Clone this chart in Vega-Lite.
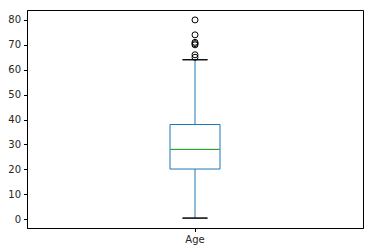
{
  "$schema": "https://vega.github.io/schema/vega-lite/v6.json",
  "autosize": "none",
  "width": 336,
  "height": 218,
  "padding": {"left": 27, "top": 10, "right": 9, "bottom": 24},
  "background": "white",
  "config": {
    "view": {"stroke": "black", "strokeWidth": 1},
    "axis": {"labelFont": "DejaVu Sans", "labelFontSize": 10, "labelColor": "#262626", "domainColor": "black", "tickColor": "black", "tickSize": 3.5, "grid": false, "labelOverlap": false}
  },
  "datasets": {
    "stats": [{"label": "Age", "min": 0.42, "q1": 20.125, "median": 28, "q3": 38, "max": 64}],
    "outliers": [
      {"label": "Age", "value": 65}, {"label": "Age", "value": 66}, {"label": "Age", "value": 70},
      {"label": "Age", "value": 70.5}, {"label": "Age", "value": 71}, {"label": "Age", "value": 74},
      {"label": "Age", "value": 80}
    ]
  },
  "encoding": {
    "x": {"field": "label", "type": "nominal", "scale": {"domain": ["Age"], "paddingOuter": 0, "paddingInner": 0}, "axis": {"title": null, "labelAngle": 0, "labelPadding": 3}}
  },
  "layer": [
    {
      "data": {"name": "stats"},
      "mark": {"type": "rule", "color": "#1f77b4", "strokeWidth": 1},
      "encoding": {
        "y": {"field": "min", "type": "quantitative", "scale": {"domain": [-3.56, 83.98], "nice": false, "zero": false}, "axis": {"values": [0,10,20,30,40,50,60,70,80], "title": null, "labelPadding": 3, "labelOverlap": false}},
        "y2": {"field": "max"}
      }
    },
    {
      "data": {"name": "stats"},
      "mark": {"type": "bar", "fill": "white", "stroke": "#1f77b4", "strokeWidth": 1, "size": 50},
      "encoding": {
        "y": {"field": "q1", "type": "quantitative", "axis": {"values": [0,10,20,30,40,50,60,70,80], "title": null, "labelPadding": 3, "labelOverlap": false}},
        "y2": {"field": "q3"}
      }
    },
    {
      "data": {"name": "stats"},
      "mark": {"type": "bar", "fill": null, "stroke": "#2ca02c", "strokeWidth": 1, "size": 49},
      "encoding": {
        "y": {"field": "median", "type": "quantitative", "axis": {"values": [0,10,20,30,40,50,60,70,80], "title": null, "labelPadding": 3, "labelOverlap": false}},
        "y2": {"field": "median"}
      }
    },
    {
      "data": {"name": "stats"},
      "mark": {"type": "bar", "fill": null, "stroke": "black", "strokeWidth": 1, "size": 25},
      "encoding": {
        "y": {"field": "min", "type": "quantitative", "axis": {"values": [0,10,20,30,40,50,60,70,80], "title": null, "labelPadding": 3, "labelOverlap": false}},
        "y2": {"field": "min"}
      }
    },
    {
      "data": {"name": "stats"},
      "mark": {"type": "bar", "fill": null, "stroke": "black", "strokeWidth": 1, "size": 25},
      "encoding": {
        "y": {"field": "max", "type": "quantitative", "axis": {"values": [0,10,20,30,40,50,60,70,80], "title": null, "labelPadding": 3, "labelOverlap": false}},
        "y2": {"field": "max"}
      }
    },
    {
      "data": {"name": "outliers"},
      "mark": {"type": "point", "shape": "circle", "filled": false, "stroke": "black", "strokeWidth": 1, "size": 36, "opacity": 1},
      "encoding": {"y": {"field": "value", "type": "quantitative", "axis": {"values": [0,10,20,30,40,50,60,70,80], "title": null, "labelPadding": 3, "labelOverlap": false}}}
    }
  ]
}
